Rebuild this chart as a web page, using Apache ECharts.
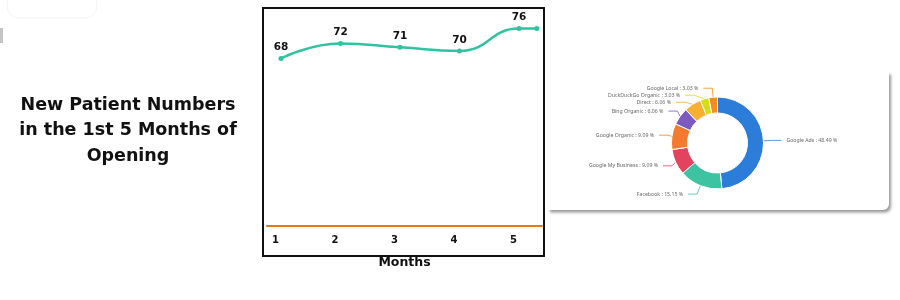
<!DOCTYPE html>
<html>
<head>
<meta charset="utf-8">
<script src="https://cdn.jsdelivr.net/npm/echarts@6/dist/echarts.min.js"></script>
<style>
html,body{margin:0;padding:0;background:#fff;}
#chart{width:900px;height:300px;}
</style>
</head>
<body>
<div id="chart"></div>
<script>
// ---- data ----
const titleText = 'New Patient Numbers\nin the 1st 5 Months of\nOpening';
const months = [1, 2, 3, 4, 5];
const patients = [68, 72, 71, 70, 76];
const tailMonth = 5.3;       // trailing point at the right edge (no label)
const tailValue = 76;
const xAxisName = 'Months';

const sourceNames = ['Google Ads', 'Facebook', 'Google My Business', 'Google Organic',
  'Bing Organic', 'Direct', 'DuckDuckGo Organic', 'Google Local'];
const sourceCounts = [16, 5, 3, 3, 2, 2, 1, 1];
const sourceColors = ['#2c7dd9', '#3dc3a2', '#e4435d', '#f47a2d', '#7b5bc2', '#f8b032', '#d5dc12', '#f88c18'];

// ---- build ----
const lineData = months.map((m, i) => [m, patients[i]]);
lineData.push({ value: [tailMonth, tailValue], label: { show: false } });

const pieData = sourceNames.map((n, i) => ({ name: n, value: sourceCounts[i], itemStyle: { color: sourceColors[i] } }));

const chart = echarts.init(document.getElementById('chart'), null, { renderer: 'canvas' });
chart.setOption({
  animation: false,
  backgroundColor: '#fff',
  graphic: [
    { type: 'rect', z: -10, shape: { x: 7, y: -8, width: 90, height: 26, r: 12 },
      style: { fill: 'none', stroke: '#f3f3f3', lineWidth: 1 } },
    { type: 'rect', z: -10, shape: { x: 0, y: 28, width: 3, height: 15 }, style: { fill: '#c4c4c4' } },
    { type: 'text', x: 128, y: 130.5,
      style: { text: titleText, textAlign: 'center', textVerticalAlign: 'middle',
        font: 'bold 17.5px "DejaVu Sans"', lineHeight: 25.5, fill: '#111' } },
    { type: 'rect', z: -1, shape: { x: 263, y: 8, width: 281, height: 248 },
      style: { fill: 'none', stroke: '#111', lineWidth: 2 } },
    { type: 'rect', z: -5, shape: { x: 548, y: 72, width: 341, height: 138, r: [0, 0, 6, 0] },
      style: { fill: '#fff', shadowBlur: 3, shadowColor: 'rgba(0,0,0,0.4)', shadowOffsetX: 2, shadowOffsetY: 2.5 } }
  ],
  grid: { left: 267, right: 358, top: 10, bottom: 74 },
  xAxis: {
    type: 'value', min: 0.765, max: 5.387,
    name: xAxisName, nameLocation: 'middle', nameGap: 30,
    nameTextStyle: { fontFamily: 'DejaVu Sans', fontWeight: 'bold', fontSize: 12.5, color: '#111' },
    axisLine: { show: true, lineStyle: { color: '#e07a1c', width: 2 } },
    axisTick: { show: false },
    splitLine: { show: false },
    axisLabel: {
      margin: 9, padding: [0, 11, 0, 0],
      fontFamily: 'DejaVu Sans', fontWeight: 'bold', fontSize: 10, color: '#111',
      showMinLabel: false, showMaxLabel: false,
      formatter: v => (Math.abs(v - Math.round(v)) < 1e-6 ? String(Math.round(v)) : '')
    }
  },
  yAxis: { type: 'value', min: 23, max: 81, show: false, splitLine: { show: false } },
  series: [
    {
      type: 'line', data: lineData, smooth: 0.5,
      symbol: 'circle', symbolSize: 5,
      lineStyle: { color: '#2fc3a0', width: 2.5 },
      itemStyle: { color: '#2fc3a0' },
      label: { show: true, position: 'top', distance: 3,
        fontFamily: 'DejaVu Sans', fontWeight: 'bold', fontSize: 10.5, color: '#111' }
    },
    {
      type: 'pie', center: [717.5, 143], radius: [30, 46],
      startAngle: 90, clockwise: true,
      data: pieData,
      itemStyle: { borderColor: '#fff', borderWidth: 1 },
      label: { show: true, formatter: '{b} : {d} %', fontSize: 5.2, color: '#666', fontFamily: 'Noto Sans' },
      labelLine: { length: 9, length2: 9, lineStyle: { width: 0.8 } }
    }
  ]
});
</script>
</body>
</html>
